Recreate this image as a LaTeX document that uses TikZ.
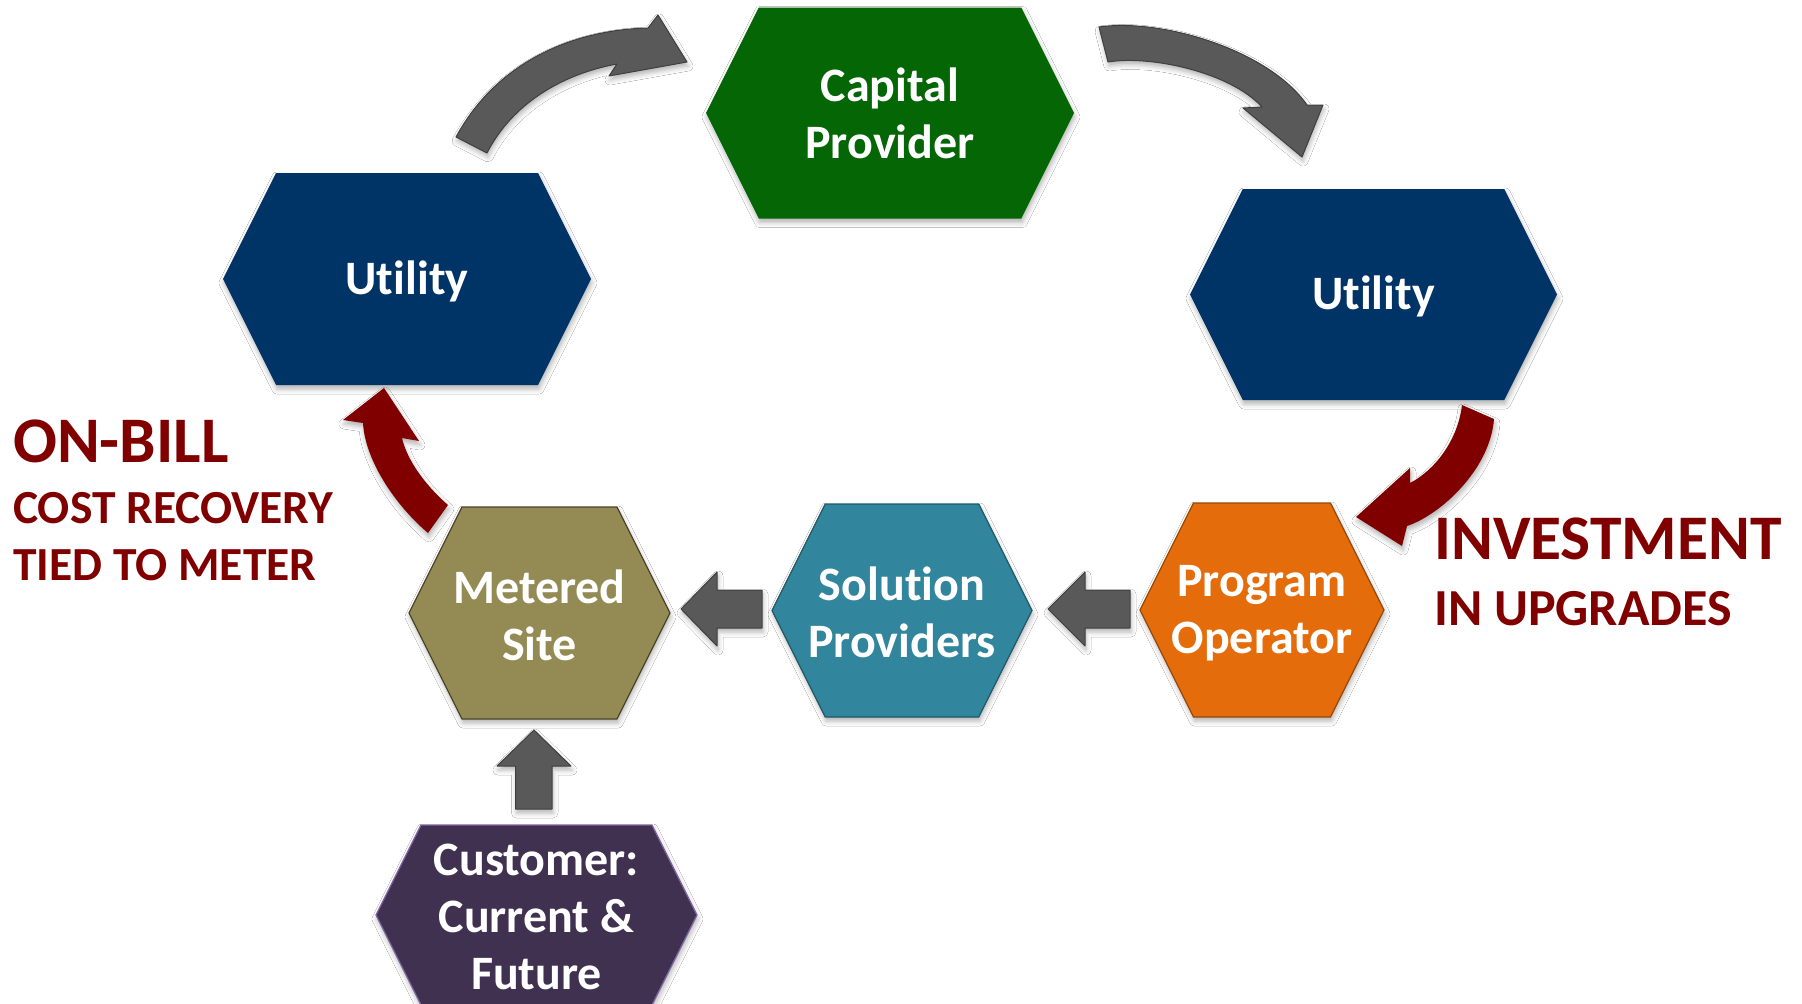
\documentclass[tikz,border=0pt]{standalone}
\usepackage{fontspec}
\setmainfont{Carlito}[Ligatures={NoCommon}]
\usetikzlibrary{shadows.blur}
\definecolor{utilblue}{HTML}{003366}
\definecolor{capgreen}{HTML}{056605}
\definecolor{olivefill}{HTML}{948A54}
\definecolor{olivedraw}{HTML}{4A452A}
\definecolor{tealfill}{HTML}{31859C}
\definecolor{tealdraw}{HTML}{215968}
\definecolor{orangefill}{HTML}{E46C0A}
\definecolor{orangedraw}{HTML}{984807}
\definecolor{purplefill}{HTML}{403151}
\definecolor{purpledraw}{HTML}{8064A2}
\definecolor{arrowgray}{HTML}{595959}
\definecolor{arrowline}{HTML}{3F3F3F}
\definecolor{darkred}{HTML}{800000}
\newcommand{\hexpath}[5]{%
  \path[#5] ({#1-#3},{#2}) -- ({#1-#3+#4/2},{#2-#4}) -- ({#1+#3-#4/2},{#2-#4})
    -- ({#1+#3},{#2}) -- ({#1+#3-#4/2},{#2+#4}) -- ({#1-#3+#4/2},{#2+#4}) -- cycle;}
\begin{document}
\begin{tikzpicture}[x=1pt,y=-1pt,
  shade/.style={blur shadow={shadow xshift=1pt, shadow yshift=-4pt, shadow blur radius=5pt, shadow opacity=30}},
  hexbox/.style={shade, line width=1.2pt},
  hextext/.style={text=white, font=\bfseries\fontsize{48}{57}\selectfont, align=center, inner sep=0pt},
  label/.style={text=darkred, font=\bfseries, anchor=base west, inner sep=0pt},
  grayarrow/.style={shade, fill=arrowgray, draw=arrowline, line width=1pt, line join=round},
  redarrow/.style={shade, fill=darkred}]
\useasboundingbox (0,0) rectangle (1802,1004);
\clip (0,0) rectangle (1802,1004);
\fill[white] (0,0) rectangle (1802,1004);

% hexagons
\hexpath{890}{113}{184}{105.5}{hexbox, fill=capgreen}
\hexpath{407}{279}{184}{106}{hexbox, fill=utilblue}
\hexpath{1373.5}{294.5}{183.5}{105.5}{hexbox, fill=utilblue}
\hexpath{539.5}{613}{130.5}{106}{hexbox, fill=olivefill, draw=olivedraw}
\hexpath{902}{610.5}{130}{106.5}{hexbox, fill=tealfill, draw=tealdraw}
\hexpath{1262}{610}{122}{107}{hexbox, fill=orangefill, draw=orangedraw}
\hexpath{536.5}{915}{160.5}{90}{hexbox, fill=purplefill, draw=purpledraw}

% hexagon texts
\node[hextext] (capital) at (890,113) {Capital\\Provider};
\node[hextext] (utilL) at (407,281) {Utility};
\node[hextext] (utilR) at (1373.5,296) {Utility};
\node[hextext] (metered) at (539.5,615) {Metered\\Site};
\node[hextext] (solution) at (902,612) {Solution\\Providers};
\node[hextext] (program) at (1262,613) {Program\\Operator};
\node[hextext] (customer) at (536.5,917) {Customer:\\Current \&\\Future};

% straight block arrows
\path[grayarrow] (681,609) -- (717,572) -- (717,590) -- (762,590) -- (762,628) -- (717,628) -- (717,646) -- cycle;
\path[grayarrow] (1048,609) -- (1085,572) -- (1085,590) -- (1130,590) -- (1130,628) -- (1085,628) -- (1085,646) -- cycle;
\path[grayarrow] (534,730) -- (571,766) -- (552,766) -- (552,809) -- (515.5,809) -- (515.5,766) -- (497,766) -- cycle;

% curved gray arrow: Utility -> Capital Provider
\path[grayarrow] (456,137) .. controls (495,65) and (568,30) .. (648,28)
  -- (658,15) -- (687,62) -- (609,76) -- (617,64)
  .. controls (562,74) and (512,104) .. (487,153) -- cycle;

% curved gray arrow: Capital Provider -> Utility
\path[grayarrow] (1099,27) .. controls (1160,18) and (1268,49) .. (1307,105)
  -- (1323,105) -- (1302,157) -- (1243,108) -- (1262,107)
  .. controls (1230,72) and (1150,55) .. (1108,62) -- cycle;

% curved red arrow: Utility -> Program Operator
\path[redarrow] (1494,419) .. controls (1490,470) and (1440,515) .. (1407,526)
  -- (1402,546) -- (1356,517) -- (1410,468) -- (1410,483)
  .. controls (1435,470) and (1458,440) .. (1462,405) -- cycle;

% curved red arrow: Metered Site -> Utility
\path[redarrow] (428,533) .. controls (395,505) and (365,460) .. (363,423)
  -- (343,420) -- (384,388) -- (419,441) -- (402,438)
  .. controls (407,460) and (425,485) .. (448,505) -- cycle;

% labels
\node[label, font=\bfseries\fontsize{65}{78}\selectfont] (onbill) at (13,462) {ON-BILL};
\node[label, font=\bfseries\fontsize{47.5}{57}\selectfont] (costrec) at (13,523) {COST RECOVERY};
\node[label, font=\bfseries\fontsize{47.5}{57}\selectfont] (tied) at (13,580) {TIED TO METER};
\node[label, font=\bfseries\fontsize{63.5}{76}\selectfont] (invest) at (1434,559) {INVESTMENT};
\node[label, font=\bfseries\fontsize{52}{62}\selectfont] (upgrades) at (1434,625) {IN UPGRADES};
\end{tikzpicture}
\end{document}
